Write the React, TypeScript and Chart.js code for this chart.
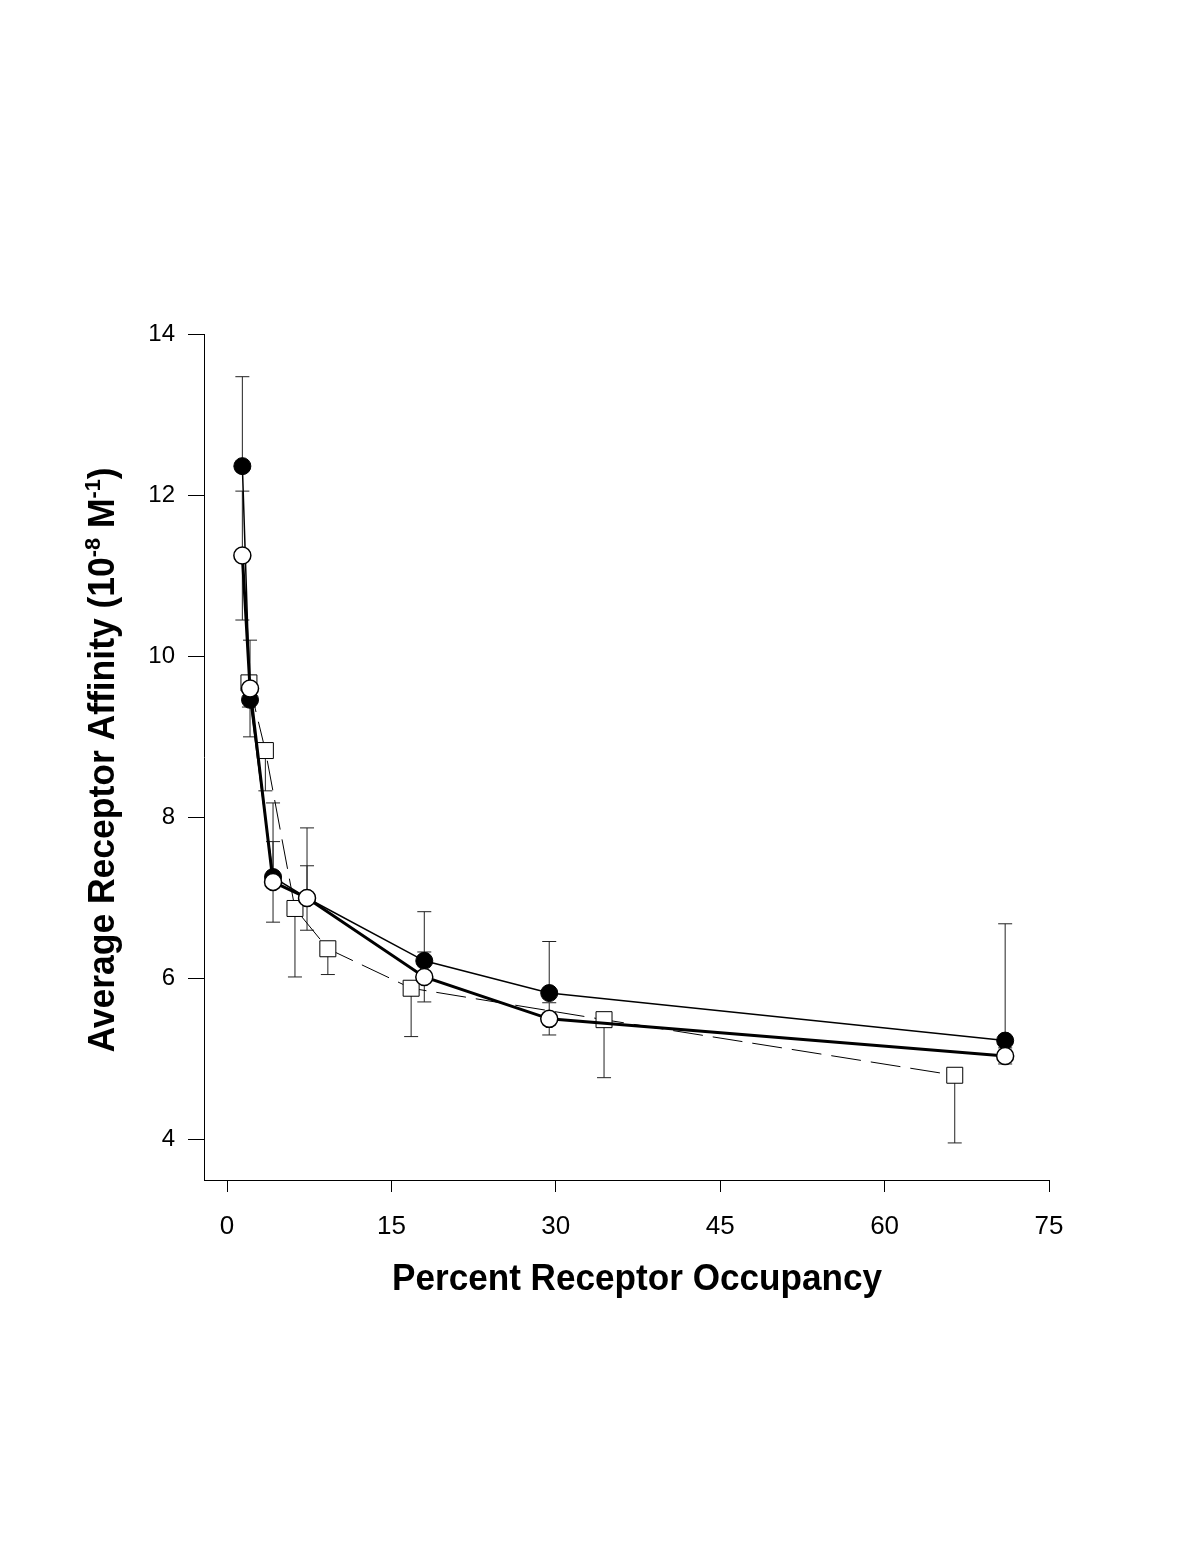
import React, { useEffect, useRef } from "react";
import { Chart, registerables } from "chart.js";

Chart.register(...registerables);

// ---- data ----
const filledX = [1.4, 2.1, 4.2, 7.3, 18.0, 29.4, 71.0];
const filledY = [12.36, 9.46, 7.26, 7.0, 6.22, 5.82, 5.23];
const filledErrUp = [1.11, 0.2, 0.92, 0.87, 0.61, 0.64, 1.45];

const openX = [1.4, 2.1, 4.2, 7.3, 18.0, 29.4, 71.0];
const openY = [11.25, 9.6, 7.2, 7.0, 6.02, 5.5, 5.04];
const openErr = [0.8, 0.6, 0.5, 0.4, 0.31, 0.2, 0.1];

const squareX = [2.0, 3.5, 6.2, 9.2, 16.8, 34.4, 66.4];
const squareY = [9.67, 8.83, 6.87, 6.37, 5.88, 5.49, 4.8];
const squareErrDown = [0.3, 0.5, 0.85, 0.32, 0.6, 0.72, 0.84];

const xTicks = [0, 15, 30, 45, 60, 75];
const yTicks = [4, 6, 8, 10, 12, 14];

const xTitle = "Percent Receptor Occupancy";
const yTitleParts = [
  { t: "Average Receptor Affinity (10", sup: false },
  { t: "-8", sup: true },
  { t: " M", sup: false },
  { t: "-1", sup: true },
  { t: ")", sup: false },
];

const FONT = "'Liberation Sans', Arial, Helvetica, sans-serif";

const errorBarPlugin = {
  id: "errorBars",
  beforeDatasetsDraw(chart: any) {
    const ctx = chart.ctx;
    const xs = chart.scales.x;
    const ys = chart.scales.y;
    const cap = 7;
    const drawBar = (x: number, y0: number, y1: number) => {
      const px = xs.getPixelForValue(x);
      const p0 = ys.getPixelForValue(y0);
      const p1 = ys.getPixelForValue(y1);
      ctx.beginPath();
      ctx.moveTo(px, p0);
      ctx.lineTo(px, p1);
      ctx.moveTo(px - cap, p1);
      ctx.lineTo(px + cap, p1);
      ctx.stroke();
    };
    ctx.save();
    ctx.strokeStyle = "#222";
    ctx.lineWidth = 1;
    filledX.forEach((x, i) => drawBar(x, filledY[i], filledY[i] + filledErrUp[i]));
    openX.forEach((x, i) => {
      drawBar(x, openY[i], openY[i] + openErr[i]);
      drawBar(x, openY[i], openY[i] - openErr[i]);
    });
    squareX.forEach((x, i) => drawBar(x, squareY[i], squareY[i] - squareErrDown[i]));
    ctx.restore();
  },
};

const titlePlugin = {
  id: "titles",
  afterDraw(chart: any) {
    const ctx = chart.ctx;
    ctx.save();
    ctx.fillStyle = "#000";
    // x title
    ctx.font = `bold 36px ${FONT}`;
    const w = ctx.measureText(xTitle).width;
    const targetW = 490;
    ctx.translate(637, 1290);
    ctx.scale(targetW / w, 1);
    ctx.textAlign = "center";
    ctx.textBaseline = "alphabetic";
    ctx.fillText(xTitle, 0, 0);
    ctx.restore();

    // y title
    ctx.save();
    ctx.fillStyle = "#000";
    const mainFont = `bold 36px ${FONT}`;
    const supFont = `bold 22px ${FONT}`;
    let total = 0;
    const widths = yTitleParts.map((p) => {
      ctx.font = p.sup ? supFont : mainFont;
      const ww = ctx.measureText(p.t).width;
      total += ww;
      return ww;
    });
    const targetL = 585;
    ctx.translate(114, 760);
    ctx.rotate(-Math.PI / 2);
    ctx.scale(targetL / total, 1);
    ctx.textAlign = "left";
    ctx.textBaseline = "alphabetic";
    let cx = -total / 2;
    yTitleParts.forEach((p, i) => {
      ctx.font = p.sup ? supFont : mainFont;
      ctx.fillText(p.t, cx, p.sup ? -14 : 0);
      cx += widths[i];
    });
    ctx.restore();
  },
};

export default function App() {
  const ref = useRef<HTMLCanvasElement | null>(null);
  useEffect(() => {
    document.body.style.margin = "0";
    const canvas = ref.current!;
    const chart = new Chart(canvas, {
      type: "line",
      data: {
        datasets: [
          {
            label: "open",
            data: openX.map((x, i) => ({ x, y: openY[i] })),
            borderColor: "#000",
            borderWidth: 3,
            pointStyle: "circle",
            pointRadius: 8.5,
            pointBackgroundColor: "#fff",
            pointBorderColor: "#000",
            pointBorderWidth: 1.5,
            tension: 0,
          },
          {
            label: "filled",
            data: filledX.map((x, i) => ({ x, y: filledY[i] })),
            borderColor: "#000",
            borderWidth: 1.5,
            pointStyle: "circle",
            pointRadius: 8.5,
            pointBackgroundColor: "#000",
            pointBorderColor: "#000",
            pointBorderWidth: 1,
            tension: 0,
          },
          {
            label: "square",
            data: squareX.map((x, i) => ({ x, y: squareY[i] })),
            borderColor: "#000",
            borderWidth: 1,
            borderDash: [30, 10],
            pointStyle: "rect",
            pointRadius: 11.3,
            pointBackgroundColor: "#fff",
            pointBorderColor: "#000",
            pointBorderWidth: 1,
            tension: 0,
          },
        ],
      },
      options: {
        animation: false,
        responsive: false,
        devicePixelRatio: 1,
        layout: { padding: { top: 334, right: 148, left: 0, bottom: 0 } },
        plugins: {
          legend: { display: false },
          tooltip: { enabled: false },
        },
        scales: {
          x: {
            type: "linear",
            min: -2.1,
            max: 75,
            afterBuildTicks: (s: any) => {
              s.ticks = xTicks.map((v) => ({ value: v }));
            },
            afterFit: (s: any) => {
              s.height = 369;
            },
            border: { display: true, color: "#000", width: 1 },
            grid: {
              drawOnChartArea: false,
              drawTicks: true,
              tickLength: 12,
              color: "#000",
              lineWidth: 1,
            },
            ticks: {
              color: "#000",
              padding: 19,
              maxRotation: 0,
              font: { family: FONT, size: 26 },
            },
          },
          y: {
            type: "linear",
            min: 3.5,
            max: 14,
            afterBuildTicks: (s: any) => {
              s.ticks = yTicks.map((v) => ({ value: v }));
            },
            afterFit: (s: any) => {
              s.width = 204;
            },
            border: { display: true, color: "#000", width: 1 },
            grid: {
              drawOnChartArea: false,
              drawTicks: true,
              tickLength: 16,
              color: "#000",
              lineWidth: 1,
            },
            ticks: {
              color: "#000",
              padding: 13,
              font: { family: FONT, size: 24 },
            },
          },
        },
      },
      plugins: [errorBarPlugin, titlePlugin],
    } as any);
    return () => chart.destroy();
  }, []);
  return (
    <canvas
      ref={ref}
      width={1197}
      height={1549}
      style={{ position: "fixed", top: 0, left: 0, width: 1197, height: 1549, background: "#fff" }}
    />
  );
}
